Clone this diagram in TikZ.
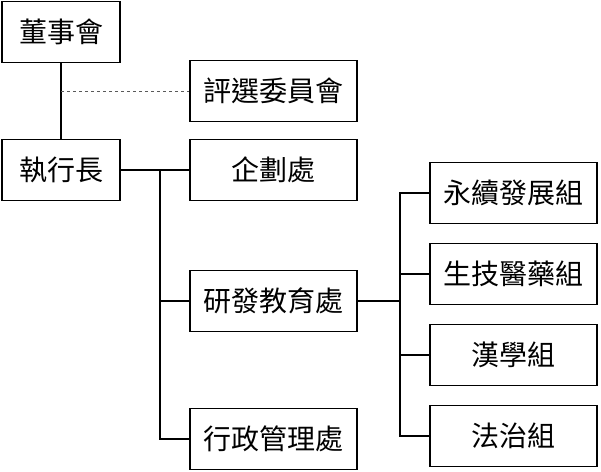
\documentclass[tikz,border=0pt]{standalone}
\usepackage{fontspec}
\newfontfamily\cjk{Noto Sans CJK TC}
\usetikzlibrary{positioning}

\begin{document}
\begin{tikzpicture}[x=1pt,y=-1pt,
  unit/.style={draw,line width=1.2pt,inner sep=0pt,font=\cjk\fontsize{28}{32}\selectfont,minimum height=61pt},
  small/.style={unit,minimum width=118pt},
  wide/.style={unit,minimum width=167pt},
  link/.style={line width=1.5pt}]
  \useasboundingbox (0,0) rectangle (601,471);
  % left column
  \node[small] (board) at (61,32) {董事會};
  \node[small] (ceo) at (61,170) {執行長};
  % middle column
  \node[wide] (jury) at (273.5,91) {評選委員會};
  \node[wide] (plan) at (273.5,170) {企劃處};
  \node[wide] (rnd) at (273.5,301) {研發教育處};
  \node[wide] (admin) at (273.5,439) {行政管理處};
  % right column
  \node[wide] (sus) at (513.5,193) {永續發展組};
  \node[wide] (bio) at (513.5,274) {生技醫藥組};
  \node[wide] (han) at (513.5,355) {漢學組};
  \node[wide] (law) at (513.5,436) {法治組};
  % connectors
  \coordinate (tap) at (61,91);
  \draw[link] (board) -- (ceo);
  \draw[dashed,gray!70!black,line width=0.6pt] (tap) -- (jury);
  \draw[link] (ceo) -- (plan);
  \draw[link] (160,170) |- (rnd);
  \draw[link] (160,170) |- (admin);
  \draw[link] (rnd) -- (400,301);
  \foreach \n in {sus,bio,han,law}
    \draw[link] (400,301) |- (\n);
\end{tikzpicture}
\end{document}
